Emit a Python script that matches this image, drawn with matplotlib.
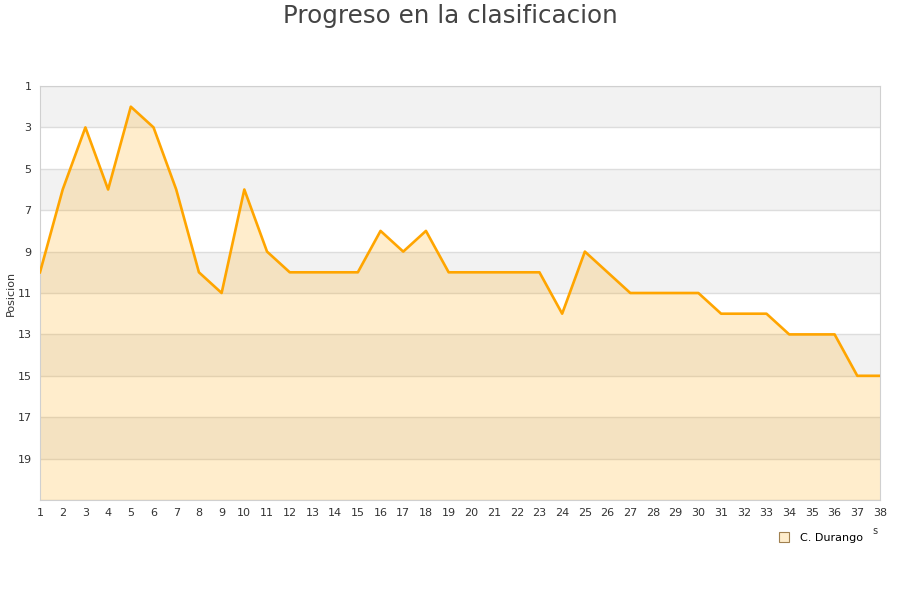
import matplotlib
matplotlib.use("Agg")
import matplotlib.pyplot as plt
from matplotlib.lines import Line2D

# jornada number and league position for C. Durango
jornadas = list(range(1, 39))
posicion = [10, 6, 3, 6, 2, 3, 6, 10, 11, 6,
            9, 10, 10, 10, 10, 8, 9, 8, 10, 10,
            10, 10, 10, 12, 9, 10, 11, 11, 11, 11,
            12, 12, 12, 13, 13, 13, 15, 15]
y_ticks = [1, 3, 5, 7, 9, 11, 13, 15, 17, 19]
team = "C. Durango"

fig = plt.figure(figsize=(9, 6), dpi=100)
ax = fig.add_axes([40 / 900, 100 / 600, 840 / 900, 414 / 600])

# alternating horizontal bands
for lo in range(1, 21, 4):
    ax.axhspan(lo, lo + 2, color="#f2f2f2", zorder=0, lw=0)
for y in range(1, 22, 2):
    ax.axhline(y, color="#dddddd", lw=1, zorder=1)

ax.fill_between(jornadas, posicion, 21, color="#ffa500", alpha=0.2, lw=0, zorder=2)
ax.plot(jornadas, posicion, color="#ffa500", lw=1.9, zorder=3)

ax.set_xlim(1, 38)
ax.set_ylim(21, 1)
ax.set_xticks(jornadas)
ax.set_yticks(y_ticks)
ax.tick_params(length=0, labelsize=8, colors="#333333", pad=6)
for s in ax.spines.values():
    s.set_color("#d0d0d0")
ax.set_ylabel("Posicion", fontsize=8, color="#333333")
ax.yaxis.set_label_coords(-24 / 840, 0.5)

fig.text(0.5, 1 - 16 / 600, "Progreso en la clasificacion", ha="center", va="center",
         fontsize=17.7, color="#444444")
fig.text(875 / 900, 1 - 531 / 600, "s", ha="center", va="center", fontsize=7, color="#333333")

handle = Line2D([], [], marker="s", ls="none", markersize=7,
                markerfacecolor="#ffedcc", markeredgecolor="#a08050", markeredgewidth=0.8)
fig.legend([handle], [team], loc="center", bbox_to_anchor=(818 / 900, 1 - 538 / 600),
           frameon=False, fontsize=8, handletextpad=0.4)

fig.savefig("out.png", dpi=100)
